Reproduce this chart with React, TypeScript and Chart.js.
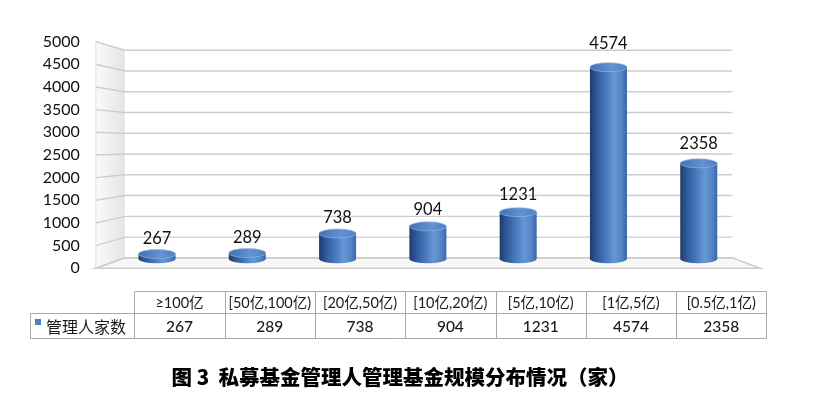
import { useEffect, useRef } from "react";
import { Chart, registerables } from "chart.js";

Chart.register(...registerables);

// ---- data ----
const categories = [
  "≥100亿",
  "[50亿,100亿)",
  "[20亿,50亿)",
  "[10亿,20亿)",
  "[5亿,10亿)",
  "[1亿,5亿)",
  "[0.5亿,1亿)",
];
const seriesName = "管理人家数";
const managerCounts = [267, 289, 738, 904, 1231, 4574, 2358];
const yMin = 0;
const yMax = 5000;
const yStep = 500;
const titleText = "图 3  私募基金管理人管理基金规模分布情况（家）";

// ---- style ----
const NUM_FONT = "Lato, 'Liberation Sans', sans-serif";
const CJK_FONT = "'Noto Sans CJK SC', sans-serif";
const GRID_COLOR = "#cdcdcd";
const TABLE_LINE = "#a9a9a9";

const threeDPlugin = {
  id: "threeD",
  beforeDatasetsDraw(chart: any) {
    const { ctx, chartArea: a, scales } = chart;
    const yF = scales.y;
    const yB = scales.yBack;
    const fl = a.left - 16;
    const bl = a.left + 13;
    const br = a.right - 11.6;
    const fr = a.right + 16;
    ctx.save();
    // side wall
    const sg = ctx.createLinearGradient(fl, 0, bl, 0);
    sg.addColorStop(0, "#fbfbfb");
    sg.addColorStop(1, "#e4e4e4");
    ctx.fillStyle = sg;
    ctx.beginPath();
    ctx.moveTo(fl, yF.getPixelForValue(yMax));
    ctx.lineTo(bl, yB.getPixelForValue(yMax));
    ctx.lineTo(bl, yB.getPixelForValue(yMin));
    ctx.lineTo(fl, yF.getPixelForValue(yMin));
    ctx.closePath();
    ctx.fill();
    // floor
    ctx.fillStyle = "#f7f7f7";
    ctx.beginPath();
    ctx.moveTo(fl, yF.getPixelForValue(yMin));
    ctx.lineTo(bl, yB.getPixelForValue(yMin));
    ctx.lineTo(br, yB.getPixelForValue(yMin));
    ctx.lineTo(fr, yF.getPixelForValue(yMin));
    ctx.closePath();
    ctx.fill();
    ctx.strokeStyle = GRID_COLOR;
    ctx.lineWidth = 1.6;
    ctx.stroke();
    // grid lines on back wall and side wall
    ctx.lineWidth = 1.4;
    yF.ticks.forEach((t: any) => {
      const v = t.value;
      const yb = yB.getPixelForValue(v);
      const yf = yF.getPixelForValue(v);
      ctx.beginPath();
      ctx.moveTo(fl, yf);
      ctx.lineTo(bl, yb);
      ctx.lineTo(br, yb);
      ctx.stroke();
    });
    // side wall front edge
    ctx.strokeStyle = "#dedede";
    ctx.lineWidth = 1;
    ctx.beginPath();
    ctx.moveTo(fl, yF.getPixelForValue(yMax));
    ctx.lineTo(fl, yF.getPixelForValue(yMin));
    ctx.stroke();
    ctx.restore();
  },
  afterDatasetsDraw(chart: any) {
    const { ctx, scales } = chart;
    const yF = scales.y;
    const meta = chart.getDatasetMeta(0);
    ctx.save();
    meta.data.forEach((el: any, i: number) => {
      const { x, y, base, width } = el.getProps(["x", "y", "base", "width"], true);
      const rx = width / 2;
      const ry = 4.5;
      const bottom = base - 6.8;
      const g = ctx.createLinearGradient(x - rx, 0, x + rx, 0);
      g.addColorStop(0, "#1e3b68");
      g.addColorStop(0.15, "#2d5594");
      g.addColorStop(0.45, "#4a7bc0");
      g.addColorStop(0.66, "#6697d5");
      g.addColorStop(0.86, "#5384c6");
      g.addColorStop(1, "#3a66a5");
      ctx.fillStyle = g;
      ctx.beginPath();
      ctx.moveTo(x - rx, y);
      ctx.lineTo(x - rx, bottom);
      ctx.ellipse(x, bottom, rx, ry, 0, Math.PI, 0, true);
      ctx.lineTo(x + rx, y);
      ctx.closePath();
      ctx.fill();
      // top cap
      const tg = ctx.createLinearGradient(x - rx, 0, x + rx, 0);
      tg.addColorStop(0, "#4270b2");
      tg.addColorStop(0.6, "#6393d2");
      tg.addColorStop(1, "#4e7ebf");
      ctx.fillStyle = tg;
      ctx.beginPath();
      ctx.ellipse(x, y, rx, ry, 0, 0, Math.PI * 2);
      ctx.fill();
      ctx.strokeStyle = "rgba(150,185,230,0.8)";
      ctx.lineWidth = 0.8;
      ctx.stroke();
      // value label
      const v = managerCounts[i];
      ctx.fillStyle = "#111";
      ctx.font = `16.5px ${NUM_FONT}`;
      ctx.textAlign = "center";
      ctx.textBaseline = "middle";
      ctx.fillText(String(v), x, yF.getPixelForValue(v) - 17.5);
    });
    ctx.restore();
  },
  afterDraw(chart: any) {
    const { ctx, scales } = chart;
    const xs = scales.x;
    const half = (xs.getPixelForValue(1) - xs.getPixelForValue(0)) / 2;
    const shift = 22.5;
    const top = 291.5;
    const mid = 313.5;
    const bot = 338.5;
    const labelLeft = 30.5;
    const colLeft = (i: number) => Math.round(xs.getPixelForValue(i) - half + shift) + 0.5;
    const tableLeft = colLeft(0);
    const tableRight = Math.round(xs.getPixelForValue(categories.length - 1) + half + shift) + 0.5;
    ctx.save();
    ctx.strokeStyle = TABLE_LINE;
    ctx.lineWidth = 1;
    ctx.beginPath();
    ctx.moveTo(tableLeft, top);
    ctx.lineTo(tableRight, top);
    ctx.moveTo(labelLeft, mid);
    ctx.lineTo(tableRight, mid);
    ctx.moveTo(labelLeft, bot);
    ctx.lineTo(tableRight, bot);
    ctx.moveTo(labelLeft, mid);
    ctx.lineTo(labelLeft, bot);
    for (let i = 0; i < categories.length; i++) {
      const cx = colLeft(i);
      ctx.moveTo(cx, top);
      ctx.lineTo(cx, bot);
    }
    ctx.moveTo(tableRight, top);
    ctx.lineTo(tableRight, bot);
    ctx.stroke();

    ctx.fillStyle = "#1a1a1a";
    ctx.textAlign = "center";
    ctx.textBaseline = "middle";
    categories.forEach((c, i) => {
      const cx = xs.getPixelForValue(i) + shift;
      ctx.font = `14.5px ${NUM_FONT}, ${CJK_FONT}`;
      ctx.fillText(c, cx, (top + mid) / 2 + 0.5);
      ctx.font = `500 15.5px ${NUM_FONT}`;
      ctx.fillText(String(managerCounts[i]), cx, (mid + bot) / 2 + 0.5);
    });
    // series label with legend key
    ctx.fillStyle = "#4f81bd";
    ctx.fillRect(35, 319, 6, 6);
    ctx.fillStyle = "#1a1a1a";
    ctx.textAlign = "left";
    ctx.font = `16px ${CJK_FONT}`;
    ctx.fillText(seriesName, 46, (mid + bot) / 2 + 0.5);

    // caption
    ctx.fillStyle = "#000";
    ctx.textAlign = "center";
    ctx.font = `900 20.5px ${CJK_FONT}`;
    ctx.fillText(titleText, 400, 377);
    ctx.restore();
  },
};

export default function App() {
  const ref = useRef<HTMLCanvasElement | null>(null);
  useEffect(() => {
    if (!ref.current) return;
    const chart = new Chart(ref.current, {
      type: "bar",
      data: {
        labels: categories,
        datasets: [
          {
            label: seriesName,
            data: managerCounts,
            yAxisID: "yBar",
            backgroundColor: "rgba(0,0,0,0)",
            borderWidth: 0,
            categoryPercentage: 1,
            barPercentage: 0.41,
          },
        ],
      },
      options: {
        responsive: false,
        animation: false,
        layout: { padding: { left: 0, right: 80.1, top: 22.7, bottom: 130.7 } },
        plugins: {
          legend: { display: false },
          tooltip: { enabled: false },
          title: { display: false },
        },
        scales: {
          x: { display: false, offset: true },
          y: {
            position: "left",
            min: yMin,
            max: yMax,
            ticks: {
              stepSize: yStep,
              autoSkip: false,
              padding: 32,
              color: "#111",
              font: { family: NUM_FONT, size: 16 },
              callback: (v: any) => String(v),
            },
            grid: { display: false, drawTicks: false },
            border: { display: false },
            afterFit: (s: any) => {
              s.width = 111.85;
            },
          },
          yBar: {
            display: false,
            min: -63.9,
            max: 5165.9,
          },
          yBack: {
            display: false,
            min: -251.1,
            max: 5206.7,
          },
        },
      },
      plugins: [threeDPlugin],
    });
    return () => chart.destroy();
  }, []);
  return (
    <div style={{ position: "fixed", left: 0, top: 0, width: 824, height: 399, background: "#fff" }}>
      <canvas ref={ref} width={824} height={399} />
    </div>
  );
}
